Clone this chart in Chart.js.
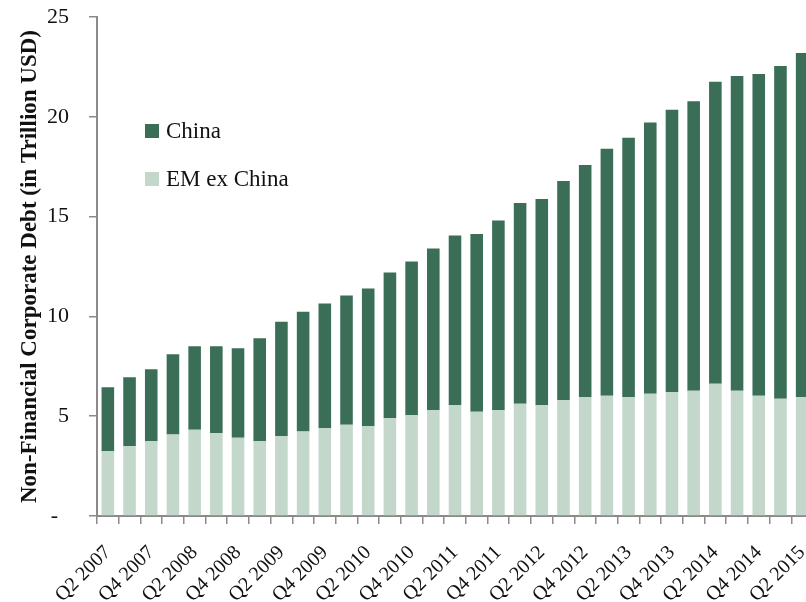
<!DOCTYPE html>
<html>
<head>
<meta charset="utf-8">
<script src="https://cdn.jsdelivr.net/npm/chart.js@4/dist/chart.umd.min.js"></script>
<style>
  html, body { margin: 0; padding: 0; background: #fff; overflow: hidden; }
  #wrap { width: 806px; height: 602px; overflow: hidden; position: relative; }
  #box { width: 820px; height: 602px; position: absolute; left: 0; top: 0; }
</style>
</head>
<body>
<div id="wrap"><div id="box"><canvas id="chart"></canvas></div></div>
<script>
const quarters = [
  'Q2 2007', 'Q3 2007', 'Q4 2007',
  'Q1 2008', 'Q2 2008', 'Q3 2008', 'Q4 2008',
  'Q1 2009', 'Q2 2009', 'Q3 2009', 'Q4 2009',
  'Q1 2010', 'Q2 2010', 'Q3 2010', 'Q4 2010',
  'Q1 2011', 'Q2 2011', 'Q3 2011', 'Q4 2011',
  'Q1 2012', 'Q2 2012', 'Q3 2012', 'Q4 2012',
  'Q1 2013', 'Q2 2013', 'Q3 2013', 'Q4 2013',
  'Q1 2014', 'Q2 2014', 'Q3 2014', 'Q4 2014',
  'Q1 2015', 'Q2 2015'
]

// trillion USD
const emExChina = [
  3.25, 3.50, 3.75, 4.08, 4.32, 4.15, 3.92, 3.75, 4.00, 4.23, 4.40,
  4.57, 4.50, 4.90, 5.05, 5.30, 5.55, 5.22, 5.30, 5.63, 5.55, 5.80,
  5.95, 6.03, 5.95, 6.13, 6.20, 6.28, 6.62, 6.28, 6.03, 5.88, 5.95
]
const china = [
  3.20, 3.45, 3.60, 4.02, 4.18, 4.35, 4.48, 5.15, 5.73, 6.00, 6.25,
  6.48, 6.90, 7.30, 7.70, 8.10, 8.50, 8.91, 9.50, 10.05, 10.33, 10.98,
  11.63, 12.37, 13.00, 13.59, 14.15, 14.50, 15.13, 15.77, 16.12, 16.67, 17.25
]

const yTicks = [0, 5, 10, 15, 20, 25]

const SERIF = '"Liberation Serif", "Times New Roman", serif'
const AXIS_GREY = '#8a8a8a'
const DARK = '#3b6e57'
const LIGHT = '#c3d7ca'

// legend drawn inside the plot, China on top
const innerLegend = {
  id: 'innerLegend',
  afterDraw(chart) {
    const ctx = chart.ctx
    const items = chart.data.datasets.slice().reverse()
    ctx.save()
    ctx.font = '23px ' + SERIF
    ctx.textBaseline = 'middle'
    items.forEach((ds, i) => {
      const y = 131 + i * 48
      ctx.fillStyle = ds.backgroundColor
      ctx.fillRect(145, y - 7, 14, 14)
      ctx.fillStyle = '#111'
      ctx.fillText(ds.label, 166, y + 1)
    })
    ctx.restore()
  }
}

new Chart(document.getElementById('chart'), {
  type: 'bar',
  data: {
    labels: quarters,
    datasets: [
      { label: 'EM ex China', data: emExChina, backgroundColor: LIGHT },
      { label: 'China', data: china, backgroundColor: DARK }
    ]
  },
  options: {
    responsive: true,
    maintainAspectRatio: false,
    animation: false,
    layout: { padding: { left: 16, right: 7, top: 17, bottom: 0 } },
    datasets: {
      bar: { categoryPercentage: 1.0, barPercentage: 0.58 }
    },
    plugins: {
      legend: { display: false },
      tooltip: { enabled: false }
    },
    scales: {
      x: {
        stacked: true,
        border: { color: AXIS_GREY, width: 2 },
        grid: {
          drawOnChartArea: false,
          drawTicks: true,
          tickLength: 8,
          color: AXIS_GREY,
          lineWidth: 1.5
        },
        ticks: {
          autoSkip: false,
          minRotation: 45,
          maxRotation: 45,
          padding: 17,
          color: '#111',
          font: { family: SERIF, size: 20 },
          callback: (v, i) => (i % 2 === 0 ? quarters[i] : '')
        },
        afterFit: (s) => {
          s.height = 86
          s.paddingLeft = 0
          s.paddingRight = 0
        }
      },
      y: {
        stacked: true,
        min: 0,
        max: 25,
        afterBuildTicks: (s) => { s.ticks = yTicks.map(v => ({ value: v })) },
        border: { color: AXIS_GREY, width: 2 },
        grid: {
          drawOnChartArea: false,
          drawTicks: true,
          tickLength: 8,
          color: AXIS_GREY,
          lineWidth: 1.5
        },
        ticks: {
          padding: 20,
          color: '#111',
          font: { family: SERIF, size: 22 },
          callback: (v) => (v === 0 ? '-  ' : v)
        },
        title: {
          display: true,
          text: 'Non-Financial Corporate Debt (in Trillion USD)',
          color: '#111',
          font: { family: SERIF, size: 23, weight: 'bold' },
          padding: { top: 0, bottom: 0 }
        },
        afterFit: (s) => {
          s.width = 81
          s.paddingTop = 0
          s.paddingBottom = 0
        }
      }
    }
  },
  plugins: [innerLegend]
})
</script>
</body>
</html>
